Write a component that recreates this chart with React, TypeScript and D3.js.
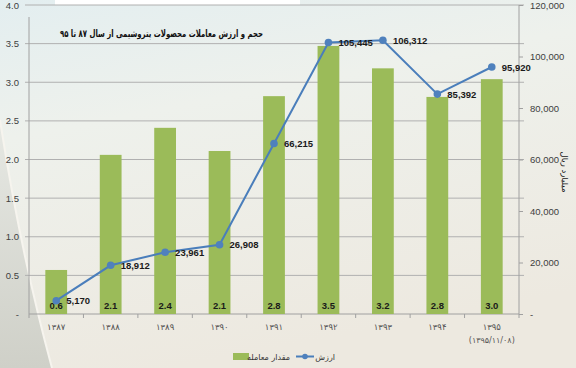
import { useEffect, useRef } from "react"
import * as d3 from "d3"

const years = ["۱۳۸۷", "۱۳۸۸", "۱۳۸۹", "۱۳۹۰", "۱۳۹۱", "۱۳۹۲", "۱۳۹۳", "۱۳۹۴", "۱۳۹۵"]
const volume = [0.57, 2.06, 2.41, 2.11, 2.82, 3.47, 3.18, 2.81, 3.04]
const value = [5170, 18912, 23961, 26908, 66215, 105445, 106312, 85392, 95920]
const leftTicks = [0, 0.5, 1, 1.5, 2, 2.5, 3, 3.5, 4]
const rightTicks = [0, 20000, 40000, 60000, 80000, 100000, 120000]

const title = "حجم و ارزش معاملات محصولات پتروشیمی از سال ۸۷ تا ۹۵"
const lastDate = "(۱۳۹۵/۱۱/۰۸)"
const rightTitle = "میلیارد ریال"
const barName = "مقدار معامله"
const lineName = "ارزش"

export default function App() {
  const svgRef = useRef<SVGSVGElement>(null)

  useEffect(() => {
    if (!svgRef.current) return
    const svg = d3.select(svgRef.current)
    svg.selectAll("*").remove()

    const W = 576
    const H = 368
    const fa = "'DejaVu Sans', sans-serif"
    const num = "'Liberation Sans', Arial, sans-serif"
    const left = 29
    const right = 519
    const top = 5
    const bottom = 314

    // background
    const defs = svg.append("defs")
    const bg = defs.append("linearGradient").attr("id", "bg").attr("x1", 0).attr("y1", 0).attr("x2", 0.3).attr("y2", 1)
    bg.append("stop").attr("offset", "0%").attr("stop-color", "#e3eef0")
    bg.append("stop").attr("offset", "35%").attr("stop-color", "#eef1ec")
    bg.append("stop").attr("offset", "100%").attr("stop-color", "#ede9e0")
    const side = defs.append("linearGradient").attr("id", "side").attr("x1", 0).attr("y1", 0).attr("x2", 0).attr("y2", 1)
    side.append("stop").attr("offset", "0%").attr("stop-color", "#e6e8e3")
    side.append("stop").attr("offset", "100%").attr("stop-color", "#cfd0c8")

    svg.append("rect").attr("width", W).attr("height", H).attr("fill", "url(#bg)")
    svg
      .append("path")
      .attr("d", "M0,120 Q20,250 52,368 L0,368 Z")
      .attr("fill", "url(#side)")
    svg
      .append("path")
      .attr("d", "M0,120 Q20,250 52,368")
      .attr("fill", "none")
      .attr("stroke", "#f6f4ee")
      .attr("stroke-width", 2)
    svg.append("rect").attr("x", 55).attr("y", 0).attr("width", 245).attr("height", 5).attr("fill", "#ffffff")

    const x = d3.scaleBand<string>().domain(years).range([left, right]).paddingInner(0.6).paddingOuter(0.3)
    const xc = (i: number) => (x(years[i]) as number) + x.bandwidth() / 2
    const yL = d3.scaleLinear().domain([0, 4]).range([bottom, top])
    const yR = d3.scaleLinear().domain([0, 120000]).range([bottom, top])

    // gridlines
    svg
      .append("g")
      .selectAll("line")
      .data(leftTicks.filter((d) => d > 0))
      .enter()
      .append("line")
      .attr("x1", left - 4)
      .attr("x2", right + 5)
      .attr("y1", (d) => yL(d))
      .attr("y2", (d) => yL(d))
      .attr("stroke", "#b0b0b0")
      .attr("stroke-width", 1)

    // left axis
    const axL = svg.append("g").attr("transform", `translate(${left},0)`).call(
      d3
        .axisLeft(yL)
        .tickValues(leftTicks)
        .tickSize(0)
        .tickPadding(10)
        .tickFormat((d) => ((d as number) === 0 ? "-" : d3.format(".1f")(d as number)))
    )
    axL.select(".domain").attr("stroke", "#a0a0a0").attr("d", `M0,17V${bottom}`)
    axL.selectAll("text").attr("font-family", num).attr("font-size", 9.5).attr("fill", "#404040")

    // right axis
    const axR = svg.append("g").attr("transform", `translate(${right},0)`).call(
      d3
        .axisRight(yR)
        .tickValues(rightTicks)
        .tickSize(4)
        .tickPadding(7)
        .tickFormat((d) => ((d as number) === 0 ? "-" : d3.format(",")(d as number)))
    )
    axR.select(".domain").attr("stroke", "#a0a0a0").attr("d", `M0,${top}V${bottom}`)
    axR.selectAll("line").attr("stroke", "#a0a0a0")
    axR.selectAll("text").attr("font-family", num).attr("font-size", 9.5).attr("fill", "#404040")

    // x axis
    svg
      .append("line")
      .attr("x1", left)
      .attr("x2", right)
      .attr("y1", bottom)
      .attr("y2", bottom)
      .attr("stroke", "#a0a0a0")
    svg
      .append("g")
      .selectAll("line")
      .data(d3.range(years.length + 1))
      .enter()
      .append("line")
      .attr("x1", (i) => left + i * ((right - left) / years.length))
      .attr("x2", (i) => left + i * ((right - left) / years.length))
      .attr("y1", bottom)
      .attr("y2", bottom + 4)
      .attr("stroke", "#a0a0a0")
    svg
      .append("g")
      .selectAll("text")
      .data(years)
      .enter()
      .append("text")
      .attr("x", (_, i) => xc(i))
      .attr("y", 330)
      .attr("text-anchor", "middle")
      .attr("font-family", fa)
      .attr("font-size", 8.5)
      .attr("fill", "#555")
      .text((d) => d)
    svg
      .append("text")
      .attr("x", xc(years.length - 1))
      .attr("y", 343)
      .attr("text-anchor", "middle")
      .attr("font-family", fa)
      .attr("font-size", 8)
      .attr("fill", "#555")
      .text(lastDate)

    // bars
    svg
      .append("g")
      .selectAll("rect")
      .data(volume)
      .enter()
      .append("rect")
      .attr("x", (_, i) => x(years[i]) as number)
      .attr("y", (d) => yL(d))
      .attr("width", x.bandwidth())
      .attr("height", (d) => bottom - yL(d))
      .attr("fill", "#9bbb59")
    svg
      .append("g")
      .selectAll("text")
      .data(volume)
      .enter()
      .append("text")
      .attr("x", (_, i) => xc(i))
      .attr("y", bottom - 5)
      .attr("text-anchor", "middle")
      .attr("font-family", num)
      .attr("font-size", 9.5)
      .attr("font-weight", "bold")
      .attr("fill", "#1a1a1a")
      .text((d) => d3.format(".1f")(d))

    // line
    const line = d3
      .line<number>()
      .x((_, i) => xc(i))
      .y((d) => yR(d))
    svg.append("path").datum(value).attr("d", line).attr("fill", "none").attr("stroke", "#4a7ebb").attr("stroke-width", 2)
    svg
      .append("g")
      .selectAll("circle")
      .data(value)
      .enter()
      .append("circle")
      .attr("cx", (_, i) => xc(i))
      .attr("cy", (d) => yR(d))
      .attr("r", 3.8)
      .attr("fill", "#4f81bd")
    svg
      .append("g")
      .selectAll("text")
      .data(value)
      .enter()
      .append("text")
      .attr("x", (_, i) => xc(i) + 10)
      .attr("y", (d) => yR(d) + 3.5)
      .attr("font-family", num)
      .attr("font-size", 9.5)
      .attr("font-weight", "bold")
      .attr("fill", "#1a1a1a")
      .text((d) => d3.format(",")(d))

    // title
    svg
      .append("text")
      .attr("x", 60)
      .attr("y", 37)
      .attr("textLength", 203)
      .attr("lengthAdjust", "spacingAndGlyphs")
      .attr("font-family", fa)
      .attr("font-size", 10)
      .attr("font-weight", "bold")
      .attr("fill", "#111")
      .text(title)

    // right axis title
    svg
      .append("text")
      .attr("transform", "translate(562,172) rotate(90)")
      .attr("text-anchor", "middle")
      .attr("font-family", fa)
      .attr("font-size", 8.5)
      .attr("fill", "#222")
      .text(rightTitle)

    // legend
    const lg = svg.append("g")
    lg.append("rect").attr("x", 233).attr("y", 353).attr("width", 16).attr("height", 7).attr("fill", "#9bbb59")
    lg.append("text")
      .attr("x", 290)
      .attr("y", 360)
      .attr("text-anchor", "end")
      .attr("font-family", fa)
      .attr("font-size", 8)
      .attr("fill", "#333")
      .text(barName)
    lg.append("line").attr("x1", 296).attr("x2", 314).attr("y1", 356.5).attr("y2", 356.5).attr("stroke", "#4a7ebb").attr("stroke-width", 2)
    lg.append("circle").attr("cx", 305).attr("cy", 356.5).attr("r", 2.8).attr("fill", "#4f81bd")
    lg.append("text")
      .attr("x", 335)
      .attr("y", 360)
      .attr("text-anchor", "end")
      .attr("font-family", fa)
      .attr("font-size", 8)
      .attr("fill", "#333")
      .text(lineName)
  }, [])

  return (
    <div style={{ position: "absolute", left: 0, top: 0 }}>
      <svg ref={svgRef} width={576} height={368} style={{ display: "block" }} />
    </div>
  )
}
